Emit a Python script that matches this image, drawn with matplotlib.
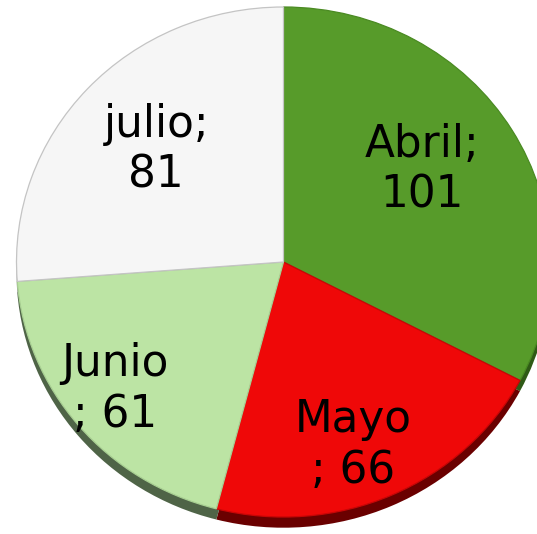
import matplotlib
matplotlib.use("Agg")
import matplotlib.pyplot as plt
import numpy as np

labels = ["Abril", "Mayo", "Junio", "julio"]
values = [101, 66, 61, 81]
label_texts = ["Abril;\n101", "Mayo\n; 66", "Junio\n; 61", "julio;\n81"]

colors = ["#579B2A", "#EF0808", "#BCE4A4", "#F6F6F6"]
side_colors = ["#2F5A16", "#6A0000", "#4F6447", "#9A9A9A"]
edge_colors = ["#4A8A22", "#C80606", "#A8CF92", "#C4C4C4"]
label_radius = [0.632, 0.764, 0.804, 0.65]
label_angle_shift = [3.6, -4.0, -1.6, 0.0]

W, H, DPI = 537, 534, 100
fig = plt.figure(figsize=(W / DPI, H / DPI), dpi=DPI)
ax = fig.add_axes([0, 0, 1, 1])
ax.set_axis_off()

# pixel geometry of the ellipse-shaped pie
cx, cy, rx, ry = 283.5, 262.0, 267.0, 255.0
xmin = -cx / rx
xmax = xmin + W / rx
ymax = cy / ry
ymin = ymax - H / ry

# side (3D thickness)
ax.pie(values, colors=side_colors, startangle=90, counterclock=False,
       radius=1.0, center=(0, -0.042), frame=False,
       wedgeprops=dict(linewidth=0))

wedges, _ = ax.pie(values, colors=colors, startangle=90, counterclock=False,
                   radius=1.0, center=(0, 0), frame=False,
                   wedgeprops=dict(linewidth=0.9))
for w, ec in zip(wedges, edge_colors):
    w.set_edgecolor(ec)

for w, txt, r, sh in zip(wedges, label_texts, label_radius, label_angle_shift):
    ang = np.deg2rad((w.theta1 + w.theta2) / 2 + sh)
    ax.text(r * np.cos(ang), r * np.sin(ang), txt, ha="center", va="center",
            fontsize=31.5, family="DejaVu Sans", color="black",
            linespacing=1.22)

ax.set_aspect("auto")
ax.set_xlim(xmin, xmax)
ax.set_ylim(ymin, ymax)

fig.savefig("out.png", dpi=DPI, facecolor="white")
